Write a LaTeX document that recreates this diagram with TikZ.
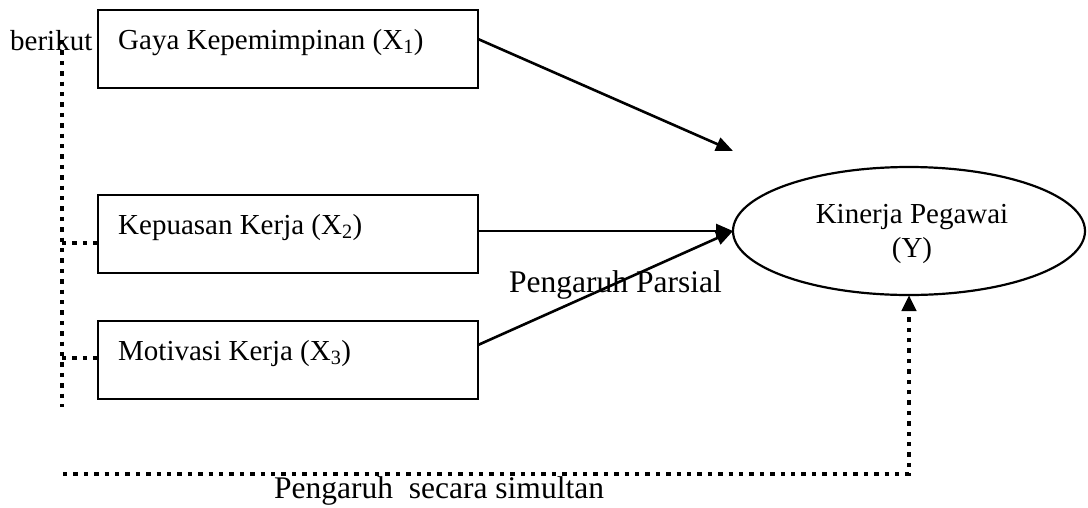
\documentclass[tikz,border=0pt]{standalone}
\usepackage{fontspec}
\setmainfont{Liberation Serif}
\usetikzlibrary{arrows.meta,shapes.geometric}
\begin{document}
\begin{tikzpicture}[x=1pt,y=-1pt,
  box/.style={draw,line width=2.2pt,minimum width=380pt,minimum height=78pt,anchor=north west,inner sep=0pt,outer sep=0pt},
  lab/.style={font=\fontsize{29}{35}\selectfont,inner sep=0pt,anchor=base west},
  clab/.style={font=\fontsize{29}{35}\selectfont,inner sep=0pt,anchor=base},
  biglab/.style={font=\fontsize{31.5}{38}\selectfont,inner sep=0pt,anchor=base west},
  arr/.style={line width=2.6pt,-{Triangle[length=17pt,width=14pt]}},
  dots/.style={line width=4.6pt,dash pattern=on 4.4pt off 6pt}]
\useasboundingbox (0,0) rectangle (1088,507);

% label left
\node[lab] (ber) at (10,50) {berikut};

% boxes
\node[box] (X1) at (98,10) {};
\node[box] (X2) at (98,195) {};
\node[box] (X3) at (98,321) {};
\node[lab] (tx1) at (118,49) {Gaya Kepemimpinan (X\textsubscript{1})};
\node[lab] (tx2) at (118,234) {Kepuasan Kerja (X\textsubscript{2})};
\node[lab] (tx3) at (118,360) {Motivasi Kerja (X\textsubscript{3})};

% ellipse
\node[draw,ellipse,line width=2.2pt,minimum width=352pt,minimum height=128pt,inner sep=0pt,outer sep=0pt] (Y) at (909,231) {};
\node[clab] (ty1) at (912,223) {Kinerja Pegawai};
\node[clab] (ty2) at (912,257) {(Y)};

% partial arrows
\coordinate (h1) at (0,39);
\coordinate (tip1) at (733,151);
\coordinate (h3) at (0,345);
\draw[arr] (X1.east |- h1) -- (tip1);
\draw[arr] (X2.east |- Y.west) -- (Y.west);
\draw[arr] (X3.east |- h3) -- (Y.west);

\node[biglab] (pp) at (509,292) {Pengaruh Parsial};

% dotted lines
\coordinate (vt) at (62,40);
\coordinate (vb) at (62,407);
\coordinate (c2) at (62,243);
\coordinate (c3) at (62,358);
\draw[dots] (vt) -- (vb);
\draw[dots] (c2) -- (X2.west |- c2);
\draw[dots] (c3) -- (X3.west |- c3);

\coordinate (sl) at (63,474);
\draw[dots,-{Triangle[length=16pt,width=14pt]}] (sl) -- (Y.south |- sl) -- (Y.south);

\node[biglab] (ps) at (274,498) {Pengaruh\ \ secara simultan};
\end{tikzpicture}
\end{document}
